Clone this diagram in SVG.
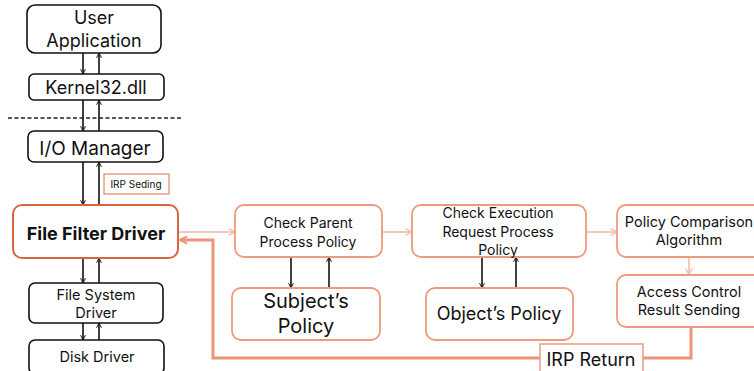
<svg xmlns="http://www.w3.org/2000/svg" width="754" height="371" viewBox="0 0 754 371">
<style>
text{font-family:Inter,"Noto Sans","Liberation Sans",sans-serif;fill:#111;text-anchor:middle}
.k{fill:#fff;stroke:#111;stroke-width:1.6}
.o{fill:#fff;stroke:#EE9A7E;stroke-width:1.8}
.ff{fill:#fff;stroke:#D9653F;stroke-width:2}
.bl{stroke:#111;stroke-width:1.6;fill:none;marker-end:url(#ab)}
.ol{stroke:#F2B7A2;stroke-width:1.5;fill:none;marker-end:url(#ao)}
.rt{stroke:#EC9478;stroke-width:3;fill:none;marker-end:url(#ar)}
</style>
<defs>
<marker id="ab" viewBox="0 0 10 10" refX="9" refY="5" markerWidth="6" markerHeight="6" orient="auto" markerUnits="userSpaceOnUse"><path d="M1,1 L9,5 L1,9" fill="none" stroke="#111" stroke-width="1.6"/></marker>
<marker id="ao" viewBox="0 0 10 10" refX="9" refY="5" markerWidth="8" markerHeight="8" orient="auto" markerUnits="userSpaceOnUse"><path d="M1,1 L9,5 L1,9" fill="none" stroke="#F2B7A2" stroke-width="1.5"/></marker>
<marker id="ar" viewBox="0 0 10 10" refX="9" refY="5" markerWidth="9" markerHeight="9" orient="auto" markerUnits="userSpaceOnUse"><path d="M1,1 L9,5 L1,9" fill="none" stroke="#EC9478" stroke-width="2"/></marker>
</defs>
<line x1="8" y1="118" x2="183" y2="118" stroke="#222" stroke-width="1.6" stroke-dasharray="4,2.5"/>
<g id="connectors">
<path class="bl" d="M83,53 V74"/><path class="bl" d="M99,74 V53"/>
<path class="bl" d="M83,100 V131"/><path class="bl" d="M99,131 V100"/>
<path class="bl" d="M83,162 V205"/><path class="bl" d="M99,205 V162"/>
<path class="bl" d="M83,258 V283"/><path class="bl" d="M99,283 V258"/>
<path class="bl" d="M83,323 V340"/><path class="bl" d="M99,340 V323"/>
<path class="bl" d="M291,257 V288"/><path class="bl" d="M329,288 V257"/>
<path class="bl" d="M482,257 V288"/><path class="bl" d="M516,288 V257"/>
<path class="ol" d="M179,232 H235"/>
<path class="ol" d="M383,232 H412"/>
<path class="ol" d="M587,232 H617"/>
<path class="ol" d="M689,258 V275"/>
<path class="rt" d="M691,327 V358 H213 V240 H180"/>
</g>
<g id="user-app"><rect class="k" x="27" y="5" width="134" height="48" rx="8"/><text x="94" y="24" font-size="18">User</text><text x="94" y="47" font-size="18">Application</text></g>
<g id="kernel32"><rect class="k" x="29" y="74" width="135" height="26" rx="5"/><text x="96" y="94" font-size="18">Kernel32.dll</text></g>
<g id="io-manager"><rect class="k" x="28" y="131" width="135" height="31" rx="6"/><text x="95" y="155" font-size="19">I/O Manager</text></g>
<g id="irp-seding"><rect x="104" y="174" width="65" height="20" fill="#fff" stroke="#E08468" stroke-width="1.2"/><text x="136" y="188" font-size="10">IRP Seding</text></g>
<g id="file-filter-driver"><rect class="ff" x="13" y="205" width="165" height="53" rx="9"/><text x="96" y="240" font-size="18" font-weight="bold">File Filter Driver</text></g>
<g id="file-system-driver"><rect class="k" x="29" y="283" width="134" height="40" rx="6"/><text x="96" y="300" font-size="14.5">File System</text><text x="96" y="318" font-size="14.5">Driver</text></g>
<g id="disk-driver"><rect class="k" x="29" y="340" width="135" height="34" rx="6"/><text x="97" y="362" font-size="14.5">Disk Driver</text></g>
<g id="check-parent"><rect class="o" x="235" y="205" width="147" height="52" rx="9"/><text x="308" y="228" font-size="14">Check Parent</text><text x="308" y="247" font-size="14">Process Policy</text></g>
<g id="subject-policy"><rect class="o" x="232" y="288" width="148" height="52" rx="9"/><text x="306" y="308" font-size="20">Subject’s</text><text x="306" y="333" font-size="20">Policy</text></g>
<g id="check-execution"><rect class="o" x="412" y="205" width="174" height="52" rx="9"/><text x="498" y="218" font-size="14">Check Execution</text><text x="498" y="237" font-size="14">Request Process</text><text x="498" y="255" font-size="14">Policy</text></g>
<g id="object-policy"><rect class="o" x="426" y="288" width="147" height="52" rx="9"/><text x="499" y="320" font-size="18">Object’s Policy</text></g>
<g id="policy-comparison"><rect class="o" x="617" y="205" width="150" height="52" rx="9"/><text x="689" y="227" font-size="14.5">Policy Comparison</text><text x="689" y="245" font-size="14.5">Algorithm</text></g>
<g id="access-control"><rect class="o" x="617" y="275" width="150" height="52" rx="9"/><text x="689" y="297" font-size="14.5">Access Control</text><text x="689" y="315" font-size="14.5">Result Sending</text></g>
<g id="irp-return"><rect x="540" y="344" width="103" height="30" fill="#fff" stroke="#EE9A7E" stroke-width="1.5"/><text x="591" y="366" font-size="18">IRP Return</text></g>
</svg>
